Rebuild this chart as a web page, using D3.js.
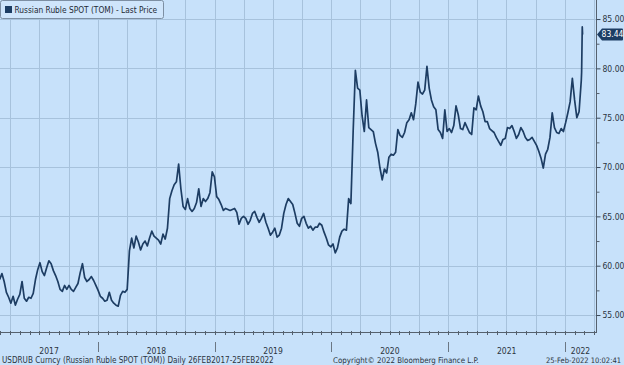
<!DOCTYPE html>
<html><head><meta charset="utf-8">
<script src="https://cdn.jsdelivr.net/npm/d3@7"></script>
<style>html,body{margin:0;padding:0;background:#c7e1fa;overflow:hidden}</style>
</head><body><svg id="c" width="624" height="365"></svg>
<script>
// ---- data ----
const seriesName = "Russian Ruble SPOT (TOM) - Last Price";
const startWeek = "2017-02-27"; // weekly closes, one per week from this Monday
const weeklyClose = [
 // 2017
 58.6,59.2,58.4,57.3,56.8,56.2,56.9,56.0,56.6,57.1,58.4,56.7,56.4,56.8,56.7,57.2,58.6,59.6,60.3,59.4,
 59.0,59.8,60.5,60.2,59.5,59.0,58.4,57.6,57.4,58.0,57.6,58.0,57.6,57.4,57.8,58.2,59.3,60.2,58.8,58.4,
 58.6,58.9,58.5,58.0,
 // 2018
 57.5,56.9,56.7,56.4,56.5,57.3,56.5,56.2,56.0,55.9,57.0,57.4,57.3,57.6,61.5,62.8,61.8,63.0,62.4,61.6,
 62.2,62.5,62.0,62.8,63.5,63.0,62.8,62.6,62.2,63.2,62.7,63.8,66.8,67.6,68.2,68.5,70.3,67.8,66.0,65.7,
 66.8,65.8,65.5,65.8,66.4,67.8,66.0,66.8,66.5,66.8,67.4,69.5,
 // 2019
 69.0,67.0,66.7,66.2,65.6,65.8,65.7,65.6,65.7,65.8,65.4,64.2,64.8,65.0,64.8,64.2,64.6,65.3,65.5,64.9,
 64.4,64.8,65.3,64.4,63.8,63.1,63.4,63.8,62.9,63.1,63.8,65.3,66.2,66.8,66.5,66.2,65.3,64.3,64.0,64.8,
 65.0,64.3,63.8,64.0,63.6,63.9,63.9,64.3,64.1,63.4,62.8,62.1,61.9,
 // 2020
 62.2,61.3,61.8,62.9,63.5,63.7,63.6,66.8,66.3,73.5,79.8,78.0,77.8,75.2,73.6,76.8,74.0,73.8,73.6,72.4,
 71.5,69.9,68.7,69.8,69.4,71.0,71.3,71.2,71.5,73.8,73.2,73.0,73.5,74.5,74.8,75.5,74.8,76.4,78.6,77.6,
 77.4,77.8,80.2,78.0,76.8,76.1,75.8,73.8,73.5,72.9,75.8,73.6,
 // 2021
 73.9,73.5,74.2,76.2,75.3,73.9,73.8,74.5,74.0,73.5,73.3,76.0,75.8,77.2,76.2,75.6,74.6,74.6,73.9,73.7,
 73.5,73.0,72.6,72.2,72.8,72.9,74.0,73.9,74.2,73.6,72.9,73.3,74.0,73.6,73.0,72.7,72.8,73.0,72.6,72.2,
 71.6,70.9,69.9,71.3,71.8,73.0,75.5,74.0,73.5,73.4,73.9,73.6,
 // 2022
 74.5,75.5,76.6,79.0,76.8,75.0,75.6,78.8
];
const tailDates = ["2022-02-22","2022-02-24","2022-02-25"];
const tailClose = [79.6, 84.2, 83.44];
const lastPrice = 83.44;
const yTicks = [55,60,65,70,75,80,85];
const yMinorTicks = [57.5,62.5,67.5,72.5,77.5,82.5];
const years = [2017,2018,2019,2020,2021,2022];
const footerLeft = "USDRUB Curncy (Russian Ruble SPOT (TOM))  Daily 26FEB2017-25FEB2022";
const footerMid = "Copyright\u00A9 2022 Bloomberg Finance L.P.";
const footerRight = "25-Feb-2022 10:02:41";

// ---- drawing ----
const FONT = "'DejaVu Sans Condensed','Liberation Sans Narrow','DejaVu Sans',sans-serif";
const svg = d3.select("#c");
const P = {left:0, right:596, top:0, bottom:332};
const parse = d3.utcParse("%Y-%m-%d");
const start = parse(startWeek);
const data = weeklyClose.map((v,i)=>({date:d3.utcDay.offset(start,7*i), value:v}))
  .concat(tailDates.map((d,i)=>({date:parse(d), value:tailClose[i]})));

const x = d3.scaleUtc().domain([new Date(Date.UTC(2017,1,28)), new Date(Date.UTC(2022,3,8))]).range([P.left,P.right]);
const y = d3.scaleLinear().domain([53.28, 86.93]).range([P.bottom,P.top]);

svg.append("rect").attr("width",624).attr("height",365).attr("fill","#c7e1fa");

const grid = svg.append("g").attr("stroke","#a7c2dc").attr("stroke-width",1).attr("shape-rendering","crispEdges");
yTicks.forEach(t=>grid.append("line").attr("x1",P.left).attr("x2",P.right).attr("y1",Math.round(y(t))+0.5).attr("y2",Math.round(y(t))+0.5));
d3.utcMonth.every(3).range(x.domain()[0], x.domain()[1]).forEach(d=>{
  const xx = Math.round(x(d))+0.5;
  grid.append("line").attr("x1",xx).attr("x2",xx).attr("y1",P.top).attr("y2",P.bottom);
});

// price line
const line = d3.line().x(d=>x(d.date)).y(d=>y(d.value));
svg.append("path").datum(data).attr("d",line).attr("fill","none")
  .attr("stroke","#1d3d63").attr("stroke-width",1.7).attr("stroke-linejoin","round");

// axes lines
const axC = "#55616e";
svg.append("line").attr("x1",P.left).attr("x2",P.right+0.5).attr("y1",P.bottom+0.5).attr("y2",P.bottom+0.5).attr("stroke",axC).attr("shape-rendering","crispEdges");
svg.append("line").attr("x1",P.right+0.5).attr("x2",P.right+0.5).attr("y1",P.top).attr("y2",P.bottom+0.5).attr("stroke",axC).attr("shape-rendering","crispEdges");

// monthly ticks on x axis
d3.utcMonth.range(x.domain()[0], x.domain()[1]).forEach(d=>{
  const xx = Math.round(x(d))+0.5;
  svg.append("line").attr("x1",xx).attr("x2",xx).attr("y1",P.bottom-1).attr("y2",P.bottom+3).attr("stroke",axC).attr("shape-rendering","crispEdges");
});

// right axis
const yAxis = d3.axisRight(y).tickValues(yTicks).tickFormat(d3.format(".2f")).tickSize(4).tickPadding(2);
const ga = svg.append("g").attr("transform",`translate(${P.right+0.5},0)`).call(yAxis);
ga.select(".domain").remove();
ga.selectAll(".tick line").attr("stroke","#3a4a5c");
ga.selectAll(".tick text").attr("fill","#2b3440").style("font-family",FONT).style("font-size","8.5px");
const gm = svg.append("g").attr("transform",`translate(${P.right+0.5},0)`).call(d3.axisRight(y).tickValues(yMinorTicks).tickFormat("").tickSize(3));
gm.select(".domain").remove();
gm.selectAll(".tick line").attr("stroke","#55616e");

// year labels and separators
const yearG = svg.append("g");
years.forEach(yr=>{
  const a = Math.max(x(new Date(Date.UTC(yr,0,1))), P.left);
  const b = Math.min(x(new Date(Date.UTC(yr+1,0,1))), P.right);
  yearG.append("text").attr("x",(a+b)/2).attr("y",353.5).attr("text-anchor","middle")
    .attr("fill","#2b3440").style("font-family",FONT).style("font-size","8.5px").text(yr);
  if (yr>2017) {
    const xx = Math.round(x(new Date(Date.UTC(yr,0,1))))+0.5;
    yearG.append("line").attr("x1",xx).attr("x2",xx).attr("y1",342).attr("y2",352).attr("stroke","#6b7784").attr("shape-rendering","crispEdges");
  }
});

// last price tag
const ly = y(lastPrice);
svg.append("path").attr("d",`M597,${ly} L602,${ly-6} L622,${ly-6} Q623,${ly-6} 623,${ly-5} L623,${ly+5} Q623,${ly+6} 622,${ly+6} L602,${ly+6} Z`).attr("fill","#1d3d63");
svg.append("text").attr("x",612.5).attr("y",ly).attr("dy","0.35em").attr("text-anchor","middle")
  .attr("fill","#ffffff").style("font-family",FONT).style("font-size","8.5px").text(d3.format(".2f")(lastPrice));

// legend
const lg = svg.append("g");
lg.append("rect").attr("x",0.5).attr("y",0.5).attr("width",163).attr("height",18).attr("rx",2)
  .attr("fill","#cfe5fb").attr("stroke","#7d8fa3");
lg.append("rect").attr("x",5).attr("y",6).attr("width",7).attr("height",7).attr("fill","#1d3d63");
const lt = lg.append("text").attr("x",14.5).attr("y",13).attr("fill","#1f2a36").style("font-family",FONT).style("font-size","8.5px").text(seriesName);

// footer
const f1 = svg.append("text").attr("x",2).attr("y",363).attr("fill","#2b3440").style("font-family",FONT).style("font-size","8.5px").text(footerLeft);
const f2 = svg.append("text").attr("x",333).attr("y",363).attr("fill","#2b3440").style("font-family",FONT).style("font-size","8.5px").text(footerMid);
const f3 = svg.append("text").attr("x",621).attr("y",363).attr("text-anchor","end").attr("fill","#2b3440").style("font-family",FONT).style("font-size","8.5px").text(footerRight);

// fit a few texts to the widths seen in the picture
function fit(sel, target){
  const len = sel.node().getComputedTextLength();
  if (len>0) sel.style("font-size", (8.5*target/len).toFixed(2)+"px");
}
fit(lt,143); fit(f1,272); fit(f2,146); fit(f3,75);
</script></body></html>
